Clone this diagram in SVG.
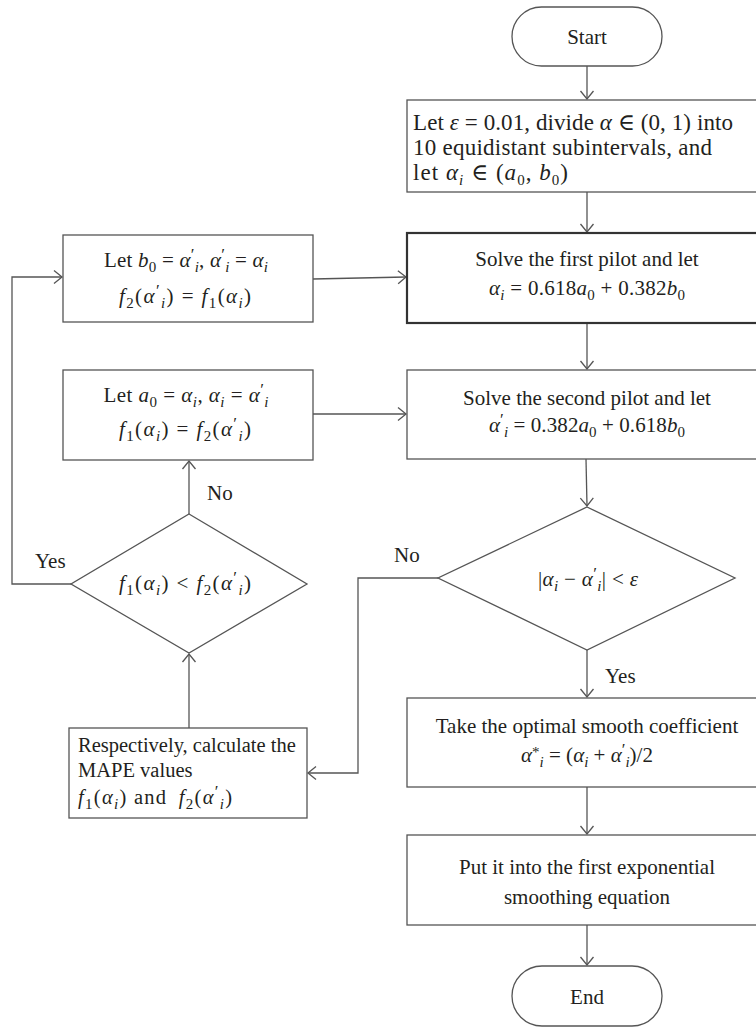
<svg xmlns="http://www.w3.org/2000/svg" width="756" height="1027" viewBox="0 0 756 1027">
<style>
text{font-family:"Liberation Serif","DejaVu Serif",serif;font-size:21px;fill:#231f20}
.c{text-anchor:middle}
.it{font-style:italic}
.s{font-size:15px}
.p{font-size:17px}
.big{font-size:23px}
.sm{font-size:20.5px}
.box{fill:#fff;stroke:#555;stroke-width:1.3}
.bold{fill:#fff;stroke:#333;stroke-width:2.2}
.ln{fill:none;stroke:#555;stroke-width:1.3}
</style>
<defs>
<marker id="arr" markerWidth="12" markerHeight="16" viewBox="-10 -8 12 16" refX="0" refY="0" orient="auto" markerUnits="userSpaceOnUse">
<path d="M-8,-6.5 L0,0 L-8,6.5" fill="none" stroke="#555" stroke-width="1.3"/>
</marker>
</defs>
<rect width="756" height="1027" fill="#fff"/>

<g id="connectors">
<path class="ln" d="M587,66 V99" marker-end="url(#arr)"/>
<path class="ln" d="M587,192 V232" marker-end="url(#arr)"/>
<path class="ln" d="M587,324 V369" marker-end="url(#arr)"/>
<path class="ln" d="M586,459 L587,506" marker-end="url(#arr)"/>
<path class="ln" d="M587,650 V697" marker-end="url(#arr)"/>
<path class="ln" d="M587,787 V834" marker-end="url(#arr)"/>
<path class="ln" d="M587,925 V965" marker-end="url(#arr)"/>
<path class="ln" d="M438,578 H358 V773 H308" marker-end="url(#arr)"/>
<path class="ln" d="M189,728 V654" marker-end="url(#arr)"/>
<path class="ln" d="M189,514 V461" marker-end="url(#arr)"/>
<path class="ln" d="M71,584 H12 V277 H62" marker-end="url(#arr)"/>
<path class="ln" d="M313,279 L406,277" marker-end="url(#arr)"/>
<path class="ln" d="M313,414 H406" marker-end="url(#arr)"/>
<text x="207" y="500">No</text>
<text x="35" y="568">Yes</text>
<text x="394" y="562">No</text>
<text x="605" y="683">Yes</text>
</g>

<g id="start">
<rect class="box" x="512" y="7" width="150" height="59" rx="29.5"/>
<text class="c" x="587" y="44">Start</text>
</g>

<g id="init">
<rect class="box" x="407" y="100" width="370" height="92"/>
<text class="big" x="413" y="130" textLength="320" lengthAdjust="spacing">Let <tspan class="it">ε</tspan> = 0.01, divide <tspan class="it">α</tspan> ∈ (0, 1) into</text>
<text class="big" x="413" y="155" textLength="299" lengthAdjust="spacing">10 equidistant subintervals, and</text>
<text class="big" x="413" y="180" textLength="155" lengthAdjust="spacing">let <tspan class="it">α</tspan><tspan class="s it" dy="5">i</tspan><tspan dy="-5"> ∈ (</tspan><tspan class="it">a</tspan><tspan class="s" dy="5">0</tspan><tspan dy="-5">, </tspan><tspan class="it">b</tspan><tspan class="s" dy="5">0</tspan><tspan dy="-5">)</tspan></text>
</g>

<g id="pilot1">
<rect class="bold" x="407" y="233" width="370" height="90"/>
<text class="c" x="587" y="266">Solve the first pilot and let</text>
<text class="c" x="587" y="295" textLength="196" lengthAdjust="spacing"><tspan class="it">α</tspan><tspan class="s it" dy="5">i</tspan><tspan dy="-5"> = 0.618</tspan><tspan class="it">a</tspan><tspan class="s" dy="5">0</tspan><tspan dy="-5"> + 0.382</tspan><tspan class="it">b</tspan><tspan class="s" dy="5">0</tspan></text>
</g>

<g id="pilot2">
<rect class="box" x="407" y="370" width="370" height="89"/>
<text class="c" x="587" y="405">Solve the second pilot and let</text>
<text class="c" x="587" y="432" textLength="196" lengthAdjust="spacing"><tspan class="it">α</tspan><tspan class="p" dy="-7">′</tspan><tspan class="s it" dy="12">i</tspan><tspan dy="-5"> = 0.382</tspan><tspan class="it">a</tspan><tspan class="s" dy="5">0</tspan><tspan dy="-5"> + 0.618</tspan><tspan class="it">b</tspan><tspan class="s" dy="5">0</tspan></text>
</g>

<g id="updateB">
<rect class="box" x="63" y="235" width="250" height="87"/>
<text class="c" x="186" y="267" textLength="164" lengthAdjust="spacing">Let <tspan class="it">b</tspan><tspan class="s" dy="5">0</tspan><tspan dy="-5"> = </tspan><tspan class="it">α</tspan><tspan class="p" dy="-7">′</tspan><tspan class="s it" dy="12">i</tspan><tspan dy="-5">, </tspan><tspan class="it">α</tspan><tspan class="p" dy="-7">′</tspan><tspan class="s it" dy="12">i</tspan><tspan dy="-5"> = </tspan><tspan class="it">α</tspan><tspan class="s it" dy="5">i</tspan></text>
<text class="c" x="185" y="303" textLength="132" lengthAdjust="spacing"><tspan class="it">f</tspan><tspan class="s" dy="5">2</tspan><tspan dy="-5">(</tspan><tspan class="it">α</tspan><tspan class="p" dy="-7">′</tspan><tspan class="s it" dy="12">i</tspan><tspan dy="-5">) = </tspan><tspan class="it">f</tspan><tspan class="s" dy="5">1</tspan><tspan dy="-5">(</tspan><tspan class="it">α</tspan><tspan class="s it" dy="5">i</tspan><tspan dy="-5">)</tspan></text>
</g>

<g id="updateA">
<rect class="box" x="63" y="370" width="250" height="90"/>
<text class="c" x="186" y="402" textLength="165" lengthAdjust="spacing">Let <tspan class="it">a</tspan><tspan class="s" dy="5">0</tspan><tspan dy="-5"> = </tspan><tspan class="it">α</tspan><tspan class="s it" dy="5">i</tspan><tspan dy="-5">, </tspan><tspan class="it">α</tspan><tspan class="s it" dy="5">i</tspan><tspan dy="-5"> = </tspan><tspan class="it">α</tspan><tspan class="p" dy="-7">′</tspan><tspan class="s it" dy="12">i</tspan></text>
<text class="c" x="185" y="436" textLength="132" lengthAdjust="spacing"><tspan class="it">f</tspan><tspan class="s" dy="5">1</tspan><tspan dy="-5">(</tspan><tspan class="it">α</tspan><tspan class="s it" dy="5">i</tspan><tspan dy="-5">) = </tspan><tspan class="it">f</tspan><tspan class="s" dy="5">2</tspan><tspan dy="-5">(</tspan><tspan class="it">α</tspan><tspan class="p" dy="-7">′</tspan><tspan class="s it" dy="12">i</tspan><tspan dy="-5">)</tspan></text>
</g>

<g id="compare">
<polygon class="box" points="189,514 307,584 189,653 71,584"/>
<text class="c" x="185" y="590" textLength="132" lengthAdjust="spacing"><tspan class="it">f</tspan><tspan class="s" dy="5">1</tspan><tspan dy="-5">(</tspan><tspan class="it">α</tspan><tspan class="s it" dy="5">i</tspan><tspan dy="-5">) &lt; </tspan><tspan class="it">f</tspan><tspan class="s" dy="5">2</tspan><tspan dy="-5">(</tspan><tspan class="it">α</tspan><tspan class="p" dy="-7">′</tspan><tspan class="s it" dy="12">i</tspan><tspan dy="-5">)</tspan></text>
</g>

<g id="converge">
<polygon class="box" points="587,507 735,578 587,650 438,578"/>
<text class="c" x="588" y="586" textLength="100" lengthAdjust="spacing">|<tspan class="it">α</tspan><tspan class="s it" dy="5">i</tspan><tspan dy="-5"> − </tspan><tspan class="it">α</tspan><tspan class="p" dy="-7">′</tspan><tspan class="s it" dy="12">i</tspan><tspan dy="-5">| &lt; </tspan><tspan class="it">ε</tspan></text>
</g>

<g id="mape">
<rect class="box" x="69" y="728" width="238" height="90"/>
<text class="sm" x="78" y="752">Respectively, calculate the</text>
<text class="sm" x="78" y="777">MAPE values</text>
<text class="sm" x="78" y="804" textLength="154" lengthAdjust="spacing"><tspan class="it">f</tspan><tspan class="s" dy="5">1</tspan><tspan dy="-5">(</tspan><tspan class="it">α</tspan><tspan class="s it" dy="5">i</tspan><tspan dy="-5">) and </tspan><tspan class="it" dx="5">f</tspan><tspan class="s" dy="5">2</tspan><tspan dy="-5">(</tspan><tspan class="it">α</tspan><tspan class="p" dy="-7">′</tspan><tspan class="s it" dy="12">i</tspan><tspan dy="-5">)</tspan></text>
</g>

<g id="optimal">
<rect class="box" x="407" y="698" width="370" height="89"/>
<text class="c" x="587" y="733">Take the optimal smooth coefficient</text>
<text class="c" x="587" y="762"><tspan class="it">α</tspan><tspan class="s" dy="-5">*</tspan><tspan class="s it" dy="10">i</tspan><tspan dy="-5"> = (</tspan><tspan class="it">α</tspan><tspan class="s it" dy="5">i</tspan><tspan dy="-5"> + </tspan><tspan class="it">α</tspan><tspan class="p" dy="-7">′</tspan><tspan class="s it" dy="12">i</tspan><tspan dy="-5">)/2</tspan></text>
</g>

<g id="apply">
<rect class="box" x="407" y="835" width="370" height="90"/>
<text class="c" x="587" y="874">Put it into the first exponential</text>
<text class="c" x="587" y="904">smoothing equation</text>
</g>

<g id="end">
<rect class="box" x="512" y="966" width="150" height="60" rx="30"/>
<text class="c" x="587" y="1004">End</text>
</g>
</svg>
